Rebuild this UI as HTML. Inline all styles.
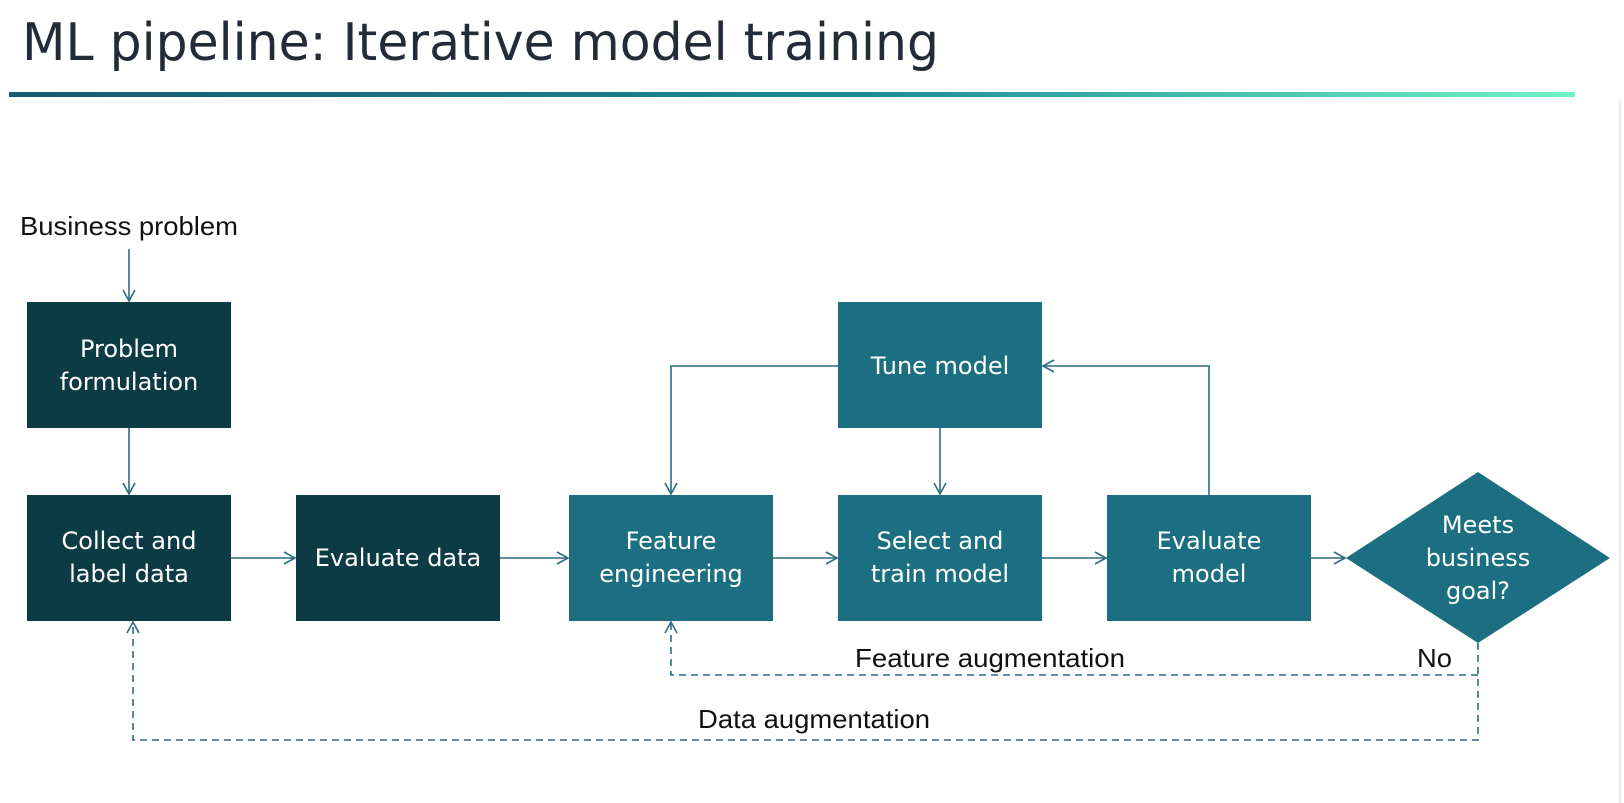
<!DOCTYPE html>
<html><head><meta charset="utf-8"><style>
html,body{margin:0;padding:0;background:#fff;}
body{width:1624px;height:803px;overflow:hidden;position:relative;font-family:"DejaVu Sans","Liberation Sans",sans-serif;}
</style></head><body>
<svg width="1624" height="803" viewBox="0 0 1624 803" xmlns="http://www.w3.org/2000/svg" style="position:absolute;left:0;top:0">
<defs>
<linearGradient id="g" x1="0" x2="1" y1="0" y2="0">
<stop offset="0" stop-color="#175a72"/><stop offset="0.55" stop-color="#1b8c94"/><stop offset="1" stop-color="#72f2c8"/>
</linearGradient>
<marker id="a" markerWidth="14" markerHeight="14" refX="12" refY="7" orient="auto" markerUnits="userSpaceOnUse">
<path d="M1,1 L12,7 L1,13" fill="none" stroke="#2d6a84" stroke-width="1.6"/>
</marker>
</defs>
<text x="22" y="60" font-family="DejaVu Sans, Liberation Sans, sans-serif" font-size="52" fill="#232b38" textLength="917" lengthAdjust="spacingAndGlyphs">ML pipeline: Iterative model training</text>
<rect x="9" y="92" width="1566" height="5" fill="url(#g)"/>
<line x1="1620" y1="100" x2="1620" y2="803" stroke="#eee" stroke-width="3"/>

<text x="20" y="235" font-family="Liberation Sans, sans-serif" font-size="26" fill="#111" textLength="218" lengthAdjust="spacingAndGlyphs">Business problem</text>

<g font-size="24" fill="#fff" text-anchor="middle" font-family="DejaVu Sans, Liberation Sans, sans-serif">
<rect x="27" y="302" width="204" height="126" fill="#0d3b45"/>
<text x="129" y="357">Problem</text><text x="129" y="390">formulation</text>
<rect x="27" y="495" width="204" height="126" fill="#0d3b45"/>
<text x="129" y="549">Collect and</text><text x="129" y="582">label data</text>
<rect x="296" y="495" width="204" height="126" fill="#0d3b45"/>
<text x="398" y="566">Evaluate data</text>
<rect x="569" y="495" width="204" height="126" fill="#1b6f80"/>
<text x="671" y="549">Feature</text><text x="671" y="582">engineering</text>
<rect x="838" y="495" width="204" height="126" fill="#1b6f80"/>
<text x="940" y="549">Select and</text><text x="940" y="582">train model</text>
<rect x="1107" y="495" width="204" height="126" fill="#1b6f80"/>
<text x="1209" y="549">Evaluate</text><text x="1209" y="582">model</text>
<rect x="838" y="302" width="204" height="126" fill="#1b6f80"/>
<text x="940" y="374">Tune model</text>
<polygon points="1346,558 1478,472 1610,558 1478,643" fill="#1b6f80"/>
<text x="1478" y="533">Meets</text><text x="1478" y="566">business</text><text x="1478" y="599">goal?</text>
</g>

<g stroke="#2d6a84" stroke-width="1.6" fill="none">
<line x1="129" y1="249" x2="129" y2="301" marker-end="url(#a)"/>
<line x1="129" y1="428" x2="129" y2="494" marker-end="url(#a)"/>
<line x1="231" y1="558" x2="295" y2="558" marker-end="url(#a)"/>
<line x1="500" y1="558" x2="568" y2="558" marker-end="url(#a)"/>
<line x1="773" y1="558" x2="837" y2="558" marker-end="url(#a)"/>
<line x1="1042" y1="558" x2="1106" y2="558" marker-end="url(#a)"/>
<line x1="1311" y1="558" x2="1345" y2="558" marker-end="url(#a)"/>
<polyline points="838,366 671,366 671,494" marker-end="url(#a)"/>
<line x1="940" y1="428" x2="940" y2="494" marker-end="url(#a)"/>
<polyline points="1209,495 1209,366 1043,366" marker-end="url(#a)"/>
<g stroke-dasharray="7,5">
<polyline points="1478,643 1478,740 133,740 133,622" marker-end="url(#a)"/>
<polyline points="1478,675 671,675 671,622" marker-end="url(#a)"/>
</g>
</g>
<g font-family="Liberation Sans, sans-serif" font-size="26" fill="#111" lengthAdjust="spacingAndGlyphs">
<text x="855" y="667" textLength="270" lengthAdjust="spacingAndGlyphs">Feature augmentation</text>
<text x="1417" y="667" textLength="35" lengthAdjust="spacingAndGlyphs">No</text>
<text x="698" y="728" textLength="232" lengthAdjust="spacingAndGlyphs">Data augmentation</text>
</g>
</svg>
</body></html>
